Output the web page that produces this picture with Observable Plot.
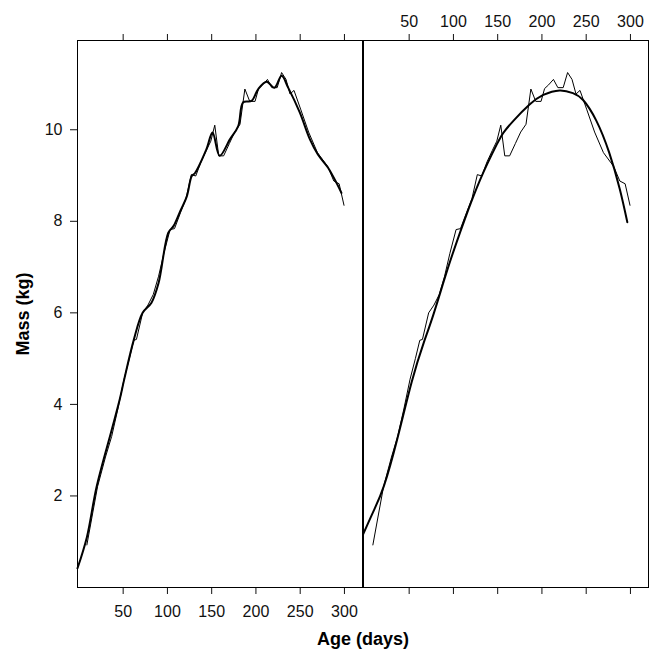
<!DOCTYPE html>
<html>
<head>
<meta charset="utf-8">
<script src="https://cdn.jsdelivr.net/npm/d3@7"></script>
<script src="https://cdn.jsdelivr.net/npm/@observablehq/plot@0.6"></script>
<style>
  html, body { margin: 0; padding: 0; background: #fff; }
  #wrap { position: relative; width: 649px; height: 651px; font-family: "Liberation Sans", Arial, sans-serif; overflow: hidden; }
  #wrap svg { position: absolute; top: 0; overflow: visible; }
  .ttl { position: absolute; font-weight: bold; font-size: 18px; line-height: 18px; color: #000; white-space: nowrap; }
</style>
</head>
<body>
<div id="wrap"></div>
<script>
// Raw measurements: age (days) and mass (kg)
const rawDays = [9, 21, 30, 37, 44, 51, 57, 62, 65, 72, 78, 84, 90, 96, 103, 108, 115, 121, 127, 132, 138, 144, 149, 153.5, 158, 163.5, 170, 176, 182, 187.5, 193, 199, 203, 207.5, 213, 218, 224, 229, 234, 238.5, 243, 250.5, 259.5, 269.5, 281, 288, 294, 299.5];
const rawMass = [0.93, 2.2, 2.85, 3.3, 3.9, 4.55, 5.0, 5.4, 5.42, 6.0, 6.17, 6.4, 6.8, 7.3, 7.82, 7.84, 8.2, 8.5, 9.02, 8.99, 9.3, 9.55, 9.75, 10.1, 9.43, 9.43, 9.7, 9.95, 10.12, 10.89, 10.62, 10.62, 10.9, 10.98, 11.1, 10.92, 10.92, 11.25, 11.1, 10.78, 10.86, 10.45, 9.95, 9.5, 9.2, 8.88, 8.82, 8.35];

// Left panel: flexible smooth
const smoothDays = [-1.6, 9, 20, 37, 46, 51, 62, 72, 82, 90, 101, 107, 114, 122, 127.5, 131, 144, 151, 159, 170.6, 180, 185.6, 195, 202.6, 212, 221, 229, 236.4, 249.5, 261, 270, 281.5, 291, 296.6];
const smoothMass = [0.42, 1.1, 2.2, 3.44, 4.1, 4.53, 5.41, 6.0, 6.22, 6.65, 7.75, 7.9, 8.2, 8.55, 8.99, 9.05, 9.57, 9.94, 9.43, 9.79, 10.08, 10.6, 10.63, 10.89, 11.05, 10.92, 11.18, 10.92, 10.38, 9.79, 9.46, 9.17, 8.84, 8.62];

// Right panel: polynomial fit
const fitDays = [-1.6, 10, 21.5, 36.5, 53, 66.5, 78, 95, 112, 130, 149, 157, 168, 186, 201.5, 220, 235, 246.5, 261.4, 276, 288, 296.5];
const fitMass = [1.18, 1.68, 2.22, 3.24, 4.5, 5.35, 6.0, 7.05, 8.0, 8.9, 9.68, 9.95, 10.2, 10.55, 10.76, 10.86, 10.8, 10.65, 10.2, 9.5, 8.7, 7.98];

const xTicks = [50, 100, 150, 200, 250, 300];
const yTicks = [2, 4, 6, 8, 10];
const xDomain = [-1.6, 320.4];
const yDomain = [0, 11.95];

const raw = rawDays.map((d, i) => ({day: d, mass: rawMass[i]}));
const smooth = smoothDays.map((d, i) => ({day: d, mass: smoothMass[i]}));
const fit = fitDays.map((d, i) => ({day: d, mass: fitMass[i]}));

const style = {fontFamily: '"Liberation Sans", Arial, sans-serif', fontSize: "16px", color: "#111", background: "transparent", overflow: "visible"};

const left = Plot.plot({
  width: 363, height: 651,
  marginLeft: 77, marginRight: 1, marginTop: 40, marginBottom: 64,
  x: {domain: xDomain},
  y: {domain: yDomain},
  style,
  marks: [
    Plot.axisY(yTicks, {anchor: "left", tickSize: 7, tickPadding: 8, label: null, fontSize: 16}),
    Plot.axisX(xTicks, {anchor: "bottom", tickSize: 7, tickPadding: 11, label: null, fontSize: 16}),
    Plot.axisX(xTicks, {anchor: "top", tickSize: 7, tickFormat: () => "", label: null}),
    Plot.line(raw, {x: "day", y: "mass", stroke: "#000", strokeWidth: 1}),
    Plot.line(smooth, {x: "day", y: "mass", stroke: "#000", strokeWidth: 2, curve: "catmull-rom"}),
    Plot.frame({stroke: "#000", strokeWidth: 1})
  ]
});

const right = Plot.plot({
  width: 287, height: 651,
  marginLeft: 1, marginRight: 1, marginTop: 40, marginBottom: 64,
  x: {domain: xDomain},
  y: {domain: yDomain},
  style,
  marks: [
    Plot.axisX(xTicks, {anchor: "top", tickSize: 7, tickPadding: 7, label: null, fontSize: 16}),
    Plot.axisX(xTicks, {anchor: "bottom", tickSize: 7, tickFormat: () => "", label: null}),
    Plot.axisY(yTicks, {anchor: "left", tickSize: 0, tickFormat: () => "", label: null}),
    Plot.line(raw, {x: "day", y: "mass", stroke: "#000", strokeWidth: 1}),
    Plot.line(fit, {x: "day", y: "mass", stroke: "#000", strokeWidth: 2, curve: "natural"}),
    Plot.frame({stroke: "#000", strokeWidth: 1})
  ]
});

const wrap = document.getElementById("wrap");
left.style.left = "0px";
right.style.left = "362px";
wrap.appendChild(left);
wrap.appendChild(right);

const xt = document.createElement("div");
xt.className = "ttl";
xt.textContent = "Age (days)";
xt.style.left = "363px";
xt.style.top = "630px";
xt.style.transform = "translateX(-50%)";
wrap.appendChild(xt);

const yt = document.createElement("div");
yt.className = "ttl";
yt.textContent = "Mass (kg)";
yt.style.left = "23px";
yt.style.top = "314px";
yt.style.transform = "translate(-50%, -50%) rotate(-90deg)";
wrap.appendChild(yt);
</script>
</body>
</html>
